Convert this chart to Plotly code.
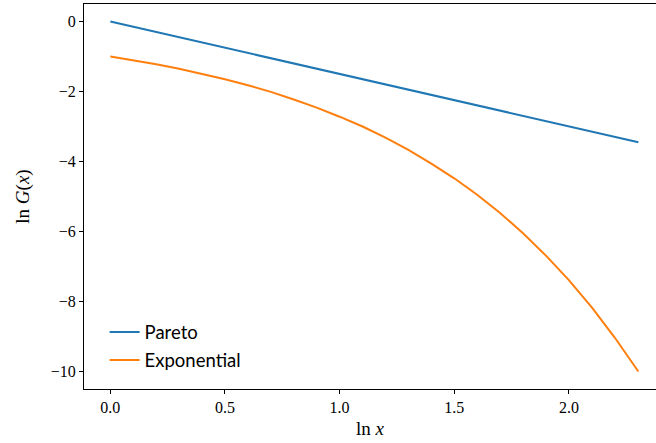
import plotly.graph_objects as go

# ln x sample points and the two survival curves on log scale
ln_x = [0.0, 0.1, 0.2, 0.3, 0.4, 0.5, 0.6, 0.7, 0.8, 0.9, 1.0, 1.1, 1.2,
        1.3, 1.4, 1.5, 1.6, 1.7, 1.8, 1.9, 2.0, 2.1, 2.2, 2.303]
pareto = [0.0, -0.15, -0.30, -0.45, -0.60, -0.75, -0.90, -1.05, -1.20,
          -1.35, -1.50, -1.65, -1.80, -1.95, -2.10, -2.25, -2.40, -2.55,
          -2.70, -2.85, -3.00, -3.15, -3.30, -3.45]
exponential = [-1.00, -1.105, -1.22, -1.35, -1.49, -1.65, -1.82, -2.01,
               -2.23, -2.46, -2.72, -3.00, -3.32, -3.67, -4.06, -4.48,
               -4.95, -5.47, -6.05, -6.69, -7.39, -8.17, -9.03, -10.0]

x_ticks = [0.0, 0.5, 1.0, 1.5, 2.0]
x_tick_text = ["0.0", "0.5", "1.0", "1.5", "2.0"]
y_ticks = [0, -2, -4, -6, -8, -10]
y_tick_text = ["0", "\u22122", "\u22124", "\u22126", "\u22128", "\u221210"]

serif = "Liberation Serif"
tick_font = dict(family=serif, size=16, color="black")
title_font = dict(family=serif, size=19, color="black")

fig = go.Figure()
fig.add_trace(go.Scatter(x=ln_x, y=pareto, mode="lines", name="Pareto",
                         legendgroup="pareto",
                         line=dict(color="#1f77b4", width=2)))
fig.add_trace(go.Scatter(x=ln_x, y=exponential, mode="lines", name="Exponential",
                         legendgroup="exponential",
                         line=dict(color="#ff7f0e", width=2)))

fig.update_xaxes(range=[-0.115, 2.380], tickmode="array",
                 tickvals=x_ticks, ticktext=x_tick_text,
                 showgrid=False, zeroline=False, showline=True, mirror=True,
                 linecolor="black", linewidth=1.1, ticks="outside",
                 ticklen=4, tickwidth=1, tickcolor="black",
                 tickfont=tick_font,
                 title=dict(text="ln <i>x</i>", font=title_font, standoff=6))
fig.update_yaxes(range=[-10.5, 0.5], tickmode="array",
                 tickvals=y_ticks, ticktext=y_tick_text,
                 showgrid=False, zeroline=False, showline=True, mirror=False,
                 linecolor="black", linewidth=1.1, ticks="outside",
                 ticklen=4, tickwidth=1, tickcolor="black",
                 tickfont=tick_font,
                 title=dict(text="ln <i>G</i>(<i>x</i>)", font=title_font, standoff=16))

fig.update_layout(
    width=656, height=443,
    margin=dict(l=84, r=0, t=4, b=54),
    font=dict(family=serif, size=16, color="black"),
    paper_bgcolor="white", plot_bgcolor="white",
    showlegend=True,
    legend=dict(x=0.036, y=0.025, xanchor="left", yanchor="bottom",
                bgcolor="rgba(0,0,0,0)", borderwidth=0,
                font=dict(family="Lato", size=18.5, color="black"),
                tracegroupgap=1, itemwidth=30),
)

fig.write_html("out.html")
